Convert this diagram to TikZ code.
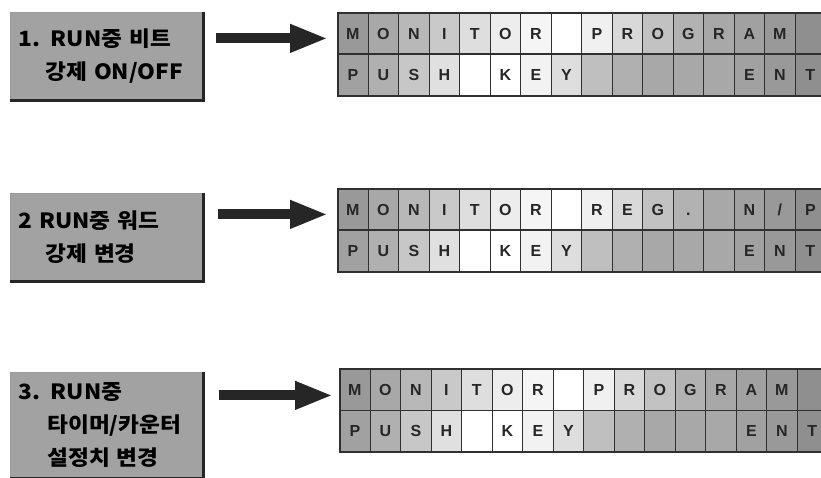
\documentclass[tikz,border=0pt]{standalone}
\usepackage{fontspec}
\usetikzlibrary{arrows.meta}

\newfontfamily\kfont[FakeStretch=1.08]{Noto Sans CJK KR}
\newfontfamily\lcdfont{Liberation Sans}

\definecolor{boxgray}{HTML}{A2A2A2}
\definecolor{ink}{HTML}{262626}
\definecolor{gridline}{HTML}{303030}

\tikzset{
  stepbox/.style={fill=boxgray, draw=black!40, line width=0.8pt,
    minimum width=193pt, anchor=north west, inner ysep=0pt, inner xsep=8pt,
    text width=177pt, align=left, text=black,
    font=\kfont\bfseries\fontsize{21}{33}\selectfont},
  rimline/.style={line width=3pt, draw=black!85},
  bigarrow/.style={line width=10pt, draw=ink,
    -{Triangle[length=38pt,width=26pt]}},
  lcdframe/.style={draw=gridline, line width=1.8pt, minimum width=488pt,
    minimum height=83pt, anchor=north west, inner sep=0pt},
  lcdcell/.style={draw=gridline, line width=1.2pt, minimum width=30.5pt,
    minimum height=41.5pt, anchor=north west, inner sep=0pt, text=ink,
    text height=11.5pt, text depth=0pt,
    font=\lcdfont\bfseries\fontsize{16}{16}\selectfont},
}

\newcommand\lcdslash{/}

% LCD panel: name, x, y, upper row, lower row (16 characters each)
\newcommand\lcdpanel[5]{%
  \foreach \ch [count=\i] in {#4} {
    \pgfmathtruncatemacro\g{{60,66,72,79,87,93,96,100,94,85,76,70,66,63,60,56}[\i-1]}
    \node[lcdcell, fill=white!\g!black] (#1u\i) at ({#2+(\i-1)*30.5},#3) {\ch};
  }
  \foreach \ch [count=\i] in {#5} {
    \pgfmathtruncatemacro\g{{63,69,78,88,100,100,95,87,75,69,66,66,66,63,60,56}[\i-1]}
    \node[lcdcell, fill=white!\g!black] (#1d\i) at ({#2+(\i-1)*30.5},#3+41.5) {\ch};
  }
  \node[lcdframe] (#1) at (#2,#3) {};
}

\begin{document}
\begin{tikzpicture}[x=1pt, y=-1pt]
  \useasboundingbox (0,0) rectangle (821,478);
  \clip (0,0) rectangle (821,478);
  \fill[white] (0,0) rectangle (821,478);

  % step boxes
  \node[stepbox, minimum height=88pt] (b1) at (10,12)
    {1. RUN중 비트\\\hspace*{27pt}강제 ON/OFF};
  \node[stepbox, minimum height=88pt] (b2) at (10,193)
    {2 RUN중 워드\\\hspace*{27pt}강제 변경};
  \node[stepbox, minimum height=106pt] (b3) at (10,372)
    {3. RUN중\\\hspace*{29pt}타이머/카운터\\\hspace*{29pt}설정치 변경};
  \foreach \b in {b1,b2,b3}
    \draw[rimline] (\b.north east) -- (\b.south east) -- (\b.south west);

  % display panels
  \lcdpanel{l1}{337}{12}{M,O,N,I,T,O,R,{},P,R,O,G,R,A,M,{}}{P,U,S,H,{},K,E,Y,{},{},{},{},{},E,N,T}
  \lcdpanel{l2}{337}{188}{M,O,N,I,T,O,R,{},R,E,G,.,{},N,\lcdslash,P}{P,U,S,H,{},K,E,Y,{},{},{},{},{},E,N,T}
  \lcdpanel{l3}{339}{368}{M,O,N,I,T,O,R,{},P,R,O,G,R,A,M,{}}{P,U,S,H,{},K,E,Y,{},{},{},{},{},E,N,T}

  % arrows from each step to its display
  \path (b1.east) ++(0,-18) coordinate (p1);
  \path (b2.east) ++(0,-23) coordinate (p2);
  \path (b3.east) ++(0,-30) coordinate (p3);
  \draw[bigarrow, shorten <=12pt, shorten >=9pt] (p1) -- (p1 -| l1.west);
  \draw[bigarrow, shorten <=14pt, shorten >=9pt] (p2) -- (p2 -| l2.west);
  \draw[bigarrow, shorten <=15pt, shorten >=6pt] (p3) -- (p3 -| l3.west);
\end{tikzpicture}
\end{document}
